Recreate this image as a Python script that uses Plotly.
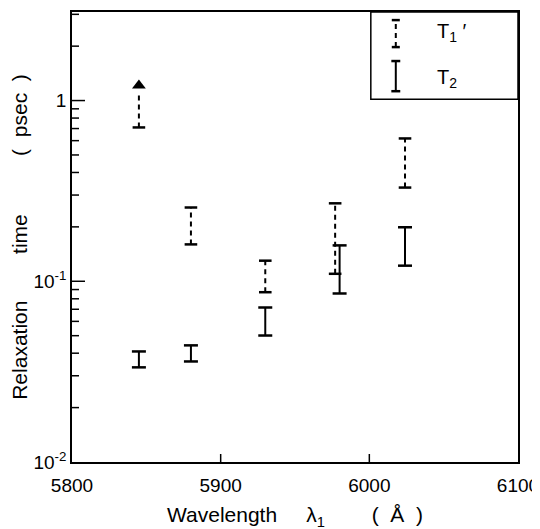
import plotly.graph_objects as go

# ---- data ----
t1_wavelength = [5845, 5880, 5930, 5977, 6024]
t1_low = [0.71, 0.160, 0.087, 0.110, 0.330]
t1_high = [1.11, 0.256, 0.130, 0.270, 0.617]
t1_lower_bound = [True, False, False, False, False]
t1_arrow_value = [1.21, None, None, None, None]

t2_wavelength = [5845, 5880, 5930, 5980, 6024]
t2_low = [0.0334, 0.0360, 0.0501, 0.0856, 0.122]
t2_high = [0.0409, 0.0442, 0.0716, 0.158, 0.199]

x_ticks = [5800, 5900, 6000, 6100]
x_inner_ticks = [5900, 6000]
y_ticks = [0.01, 0.1, 1]
y_ticktext = ["10<sup>-2</sup>", "10<sup>-1</sup>", "1"]
y_minor = [round(v * m, 4) for v in (0.01, 0.1, 1) for m in range(2, 10) if v * m < 3.1]

FONT = "Liberation Sans"
X_RANGE = [5800, 6100]
Y_RANGE = [-2, 0.49]
NB = "\u00a0"

# plot-area size in px (used to turn tick lengths into axis units)
PLOT_W, PLOT_H = 446, 450


def seg(xs, lo, hi):
    X, Y = [], []
    for x, a, b in zip(xs, lo, hi):
        X += [x, x, None]
        Y += [a, b, None]
    return X, Y


fig = go.Figure()

# T1' dashed bars
X, Y = seg(t1_wavelength, t1_low, t1_high)
fig.add_trace(go.Scatter(x=X, y=Y, mode="lines",
                         line=dict(color="black", width=2, dash="5px,4px"),
                         showlegend=False, hoverinfo="skip"))
cx, cy = [], []
for x, a, b, lb in zip(t1_wavelength, t1_low, t1_high, t1_lower_bound):
    cx.append(x); cy.append(a)
    if not lb:
        cx.append(x); cy.append(b)
fig.add_trace(go.Scatter(x=cx, y=cy, mode="markers",
                         marker=dict(symbol="line-ew", size=9,
                                     line=dict(width=2.5, color="black")),
                         showlegend=False, hoverinfo="skip"))
ax = [x for x, v in zip(t1_wavelength, t1_arrow_value) if v is not None]
ay = [v for v in t1_arrow_value if v is not None]
fig.add_trace(go.Scatter(x=ax, y=ay, mode="markers",
                         marker=dict(symbol="triangle-up", size=12, color="black",
                                     line=dict(width=0)),
                         showlegend=False, hoverinfo="skip"))

# T2 solid bars
X, Y = seg(t2_wavelength, t2_low, t2_high)
fig.add_trace(go.Scatter(x=X, y=Y, mode="lines",
                         line=dict(color="black", width=2),
                         showlegend=False, hoverinfo="skip"))
fig.add_trace(go.Scatter(x=t2_wavelength + t2_wavelength, y=t2_low + t2_high,
                         mode="markers",
                         marker=dict(symbol="line-ew", size=10,
                                     line=dict(width=2.5, color="black")),
                         showlegend=False, hoverinfo="skip"))

# ---- inside tick marks, drawn at the tick values ----
dx_per_px = (X_RANGE[1] - X_RANGE[0]) / PLOT_W
dlogy_per_px = (Y_RANGE[1] - Y_RANGE[0]) / PLOT_H
tx, ty = [], []
for v in y_ticks[1:]:
    tx += [X_RANGE[0], X_RANGE[0] + 13 * dx_per_px, None]
    ty += [v, v, None]
for v in y_minor:
    tx += [X_RANGE[0], X_RANGE[0] + 7 * dx_per_px, None]
    ty += [v, v, None]
y_bottom = 10 ** Y_RANGE[0]
for v in x_inner_ticks:
    tx += [v, v, None]
    ty += [y_bottom, y_bottom * 10 ** (8 * dlogy_per_px), None]
fig.add_trace(go.Scatter(x=tx, y=ty, mode="lines", line=dict(color="black", width=1.5),
                         showlegend=False, hoverinfo="skip", cliponaxis=False))

# ---- legend box drawn by hand ----
shapes = [
    dict(type="rect", xref="paper", yref="paper", x0=0.670, x1=1.0, y0=0.806, y1=1.0,
         line=dict(color="black", width=1.5), fillcolor="rgba(0,0,0,0)"),
    dict(type="line", xref="paper", yref="paper", x0=0.726, x1=0.726, y0=0.922, y1=0.982,
         line=dict(color="black", width=2, dash="5px,4px")),
    dict(type="line", xref="paper", yref="paper", x0=0.717, x1=0.735, y0=0.982, y1=0.982,
         line=dict(color="black", width=2.5)),
    dict(type="line", xref="paper", yref="paper", x0=0.717, x1=0.735, y0=0.922, y1=0.922,
         line=dict(color="black", width=2.5)),
    dict(type="line", xref="paper", yref="paper", x0=0.726, x1=0.726, y0=0.824, y1=0.891,
         line=dict(color="black", width=2)),
    dict(type="line", xref="paper", yref="paper", x0=0.716, x1=0.736, y0=0.891, y1=0.891,
         line=dict(color="black", width=2.5)),
    dict(type="line", xref="paper", yref="paper", x0=0.716, x1=0.736, y0=0.824, y1=0.824,
         line=dict(color="black", width=2.5)),
]
annotations = [
    dict(xref="paper", yref="paper", x=0.815, y=0.955, xanchor="left", yanchor="middle",
         text="T<sub>1</sub>" + NB + "\u2032", showarrow=False,
         font=dict(family=FONT, size=20, color="black")),
    dict(xref="paper", yref="paper", x=0.815, y=0.852, xanchor="left", yanchor="middle",
         text="T<sub>2</sub>", showarrow=False,
         font=dict(family=FONT, size=20, color="black")),
]

# the page body has an 8px margin, so the margins are shifted by 8px
fig.update_layout(
    width=540, height=529,
    margin=dict(l=64, r=30, t=4, b=75, autoexpand=False),
    paper_bgcolor="white", plot_bgcolor="white",
    font=dict(family=FONT, size=19, color="black"),
    shapes=shapes, annotations=annotations,
    showlegend=False,
)
fig.update_xaxes(
    range=X_RANGE, tickmode="array", tickvals=x_ticks, ticktext=[str(v) for v in x_ticks],
    ticks="outside", ticklen=5, tickcolor="rgba(0,0,0,0)",
    showline=True, linecolor="black", linewidth=1.5, mirror=True,
    showgrid=False, zeroline=False, automargin=False,
    title=dict(text="Wavelength" + NB * 5 + "\u03bb<sub>1</sub>" + NB * 8 + "(" + NB * 2 + "\u00c5" + NB * 2 + ")",
               standoff=13, font=dict(family=FONT, size=21)),
)
fig.update_yaxes(
    type="log", range=Y_RANGE, tickmode="array",
    tickvals=y_ticks, ticktext=y_ticktext,
    ticks="", showline=True, linecolor="black", linewidth=1.5, mirror=True,
    showgrid=False, zeroline=False, automargin=False,
    title=dict(text="Relaxation" + NB * 8 + "time" + NB * 10 + "(" + NB * 2 + "psec" + NB * 2 + ")" + NB * 6,
               standoff=4, font=dict(family=FONT, size=21)),
)

fig.write_html("out.html")
